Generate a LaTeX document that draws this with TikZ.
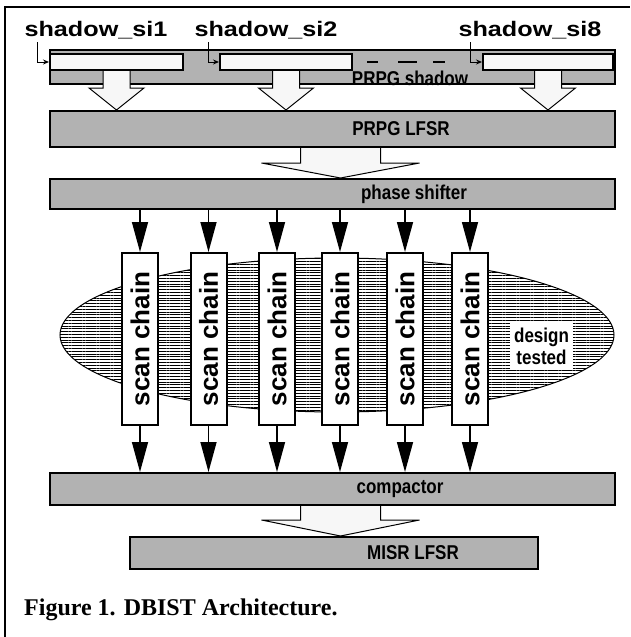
\documentclass[tikz,border=0pt]{standalone}
\usepackage{fontspec}
\setmainfont{Liberation Serif}
\newfontfamily\blockfont[FakeStretch=0.85]{Liberation Sans}
\newfontfamily\chainfont{Liberation Sans}
\newfontfamily\pinfont[FakeStretch=1.2]{Liberation Sans}
\usetikzlibrary{arrows.meta,calc,patterns.meta}

\tikzset{
  graybox/.style={draw=black, line width=2pt, fill=black!30, inner sep=0pt},
  slotbox/.style={draw=black, line width=2pt, fill=white!97!black, inner sep=0pt, minimum height=16pt},
  chainbox/.style={draw=black, line width=2pt, fill=white, inner sep=0pt, minimum width=36pt, minimum height=172pt, font=\chainfont\bfseries\fontsize{26}{26}\selectfont},
  boxlabel/.style={font=\blockfont\bfseries\fontsize{20}{22}\selectfont, inner sep=0pt},
  pinlabel/.style={font=\pinfont\bfseries\fontsize{21}{24}\selectfont, inner sep=0pt, anchor=base},
  feed/.style={line width=1.5pt, -{Triangle[length=30pt,width=16pt]}},
  feedin/.style={line width=1pt, -{Stealth[length=6pt,width=5pt]}},
  fatarrow/.style={draw=black, line width=1pt, fill=white!97!black},
}

% hollow block arrow: from, to, shaft half width, head half width, head length
\newcommand{\fatarrow}[5]{%
  \filldraw[fatarrow] let \p1=(#1), \p2=(#2) in
    (\x1-#3,\y1) -- (\x1-#3,\y2+#5) -- (\x1-#4,\y2+#5) -- (\x1,\y2)
    -- (\x1+#4,\y2+#5) -- (\x1+#3,\y2+#5) -- (\x1+#3,\y1);}

\begin{document}
\begin{tikzpicture}[x=1pt, y=-1pt]
\useasboundingbox (0,0) rectangle (630,637);
\draw[line width=2pt] (5,637) -- (5,7) -- (630,7);

% design under test
\draw[line width=1pt, pattern={Lines[angle=0,distance=2.8pt,line width=1pt]}] (337,335) ellipse [x radius=277, y radius=77];
\node[fill=white, inner sep=0pt, minimum width=63pt, minimum height=48pt, align=center,
  font=\blockfont\bfseries\fontsize{20}{22}\selectfont] (dut) at (541.5,346) {design\\tested};

% shadow register
\node[graybox, minimum width=565pt, minimum height=34pt] (shadow) at (332.5,67) {};
\node[slotbox, minimum width=133pt] (sh1) at (116.5,62) {};
\node[slotbox, minimum width=132pt] (sh2) at (286,62) {};
\node[slotbox, minimum width=130pt] (sh3) at (548,62) {};
\draw[line width=2pt] (367,62) -- ++(11,0) (398,62) -- ++(19,0) (433,62) -- ++(12,0);
\node[boxlabel] at (410,78) {PRPG shadow};

\node[pinlabel] (pin1) at (96,36) {shadow\_si1};
\node[pinlabel] (pin2) at (266,36) {shadow\_si2};
\node[pinlabel] (pin3) at (530,36) {shadow\_si8};
\coordinate (in1) at (37,42);
\coordinate (in2) at (208,42);
\coordinate (in3) at (470,42);
\draw[feedin] (in1) |- (sh1.west);
\draw[feedin] (in2) |- (sh2.west);
\draw[feedin] (in3) |- (sh3.west);

% registers
\node[graybox, minimum width=565pt, minimum height=36pt] (lfsr) at (332.5,129) {};
\node[graybox, minimum width=565pt, minimum height=30pt] (shifter) at (332.5,194) {};
\node[graybox, minimum width=565pt, minimum height=32pt] (compactor) at (332.5,489) {};
\node[graybox, minimum width=408pt, minimum height=32pt] (misr) at (334,553) {};
\node[boxlabel] at (401,129) {PRPG LFSR};
\node[boxlabel] at (414,194) {phase shifter};
\node[boxlabel] at (400,489) {compactor};
\node[boxlabel] at (413,553) {MISR LFSR};

\fatarrow{sh1.south}{lfsr.north}{13.5pt}{27.5pt}{22pt}
\fatarrow{sh2.south}{lfsr.north}{13.5pt}{27.5pt}{22pt}
\fatarrow{sh3.south}{lfsr.north}{13.5pt}{27.5pt}{22pt}
\fatarrow{[xshift=8pt]lfsr.south}{shifter.north}{40pt}{79pt}{15pt}
\fatarrow{[xshift=8pt]compactor.south}{misr.north}{40pt}{79pt}{16pt}

% scan chains
\foreach \cx [count=\i] in {140,208.5,277,340,405,470} {
  \node[chainbox] (chain\i) at (\cx,339) {\rotatebox{90}{scan chain}};
  \draw[feed] (chain\i.north |- shifter.south) -- (chain\i.north);
  \draw[feed] (chain\i.south) -- (chain\i.south |- compactor.north);
}

\node[anchor=base west, inner sep=0pt, font=\bfseries\fontsize{24}{28}\selectfont] (caption) at (24,615) {Figure 1. DBIST Architecture.};
\end{tikzpicture}
\end{document}
